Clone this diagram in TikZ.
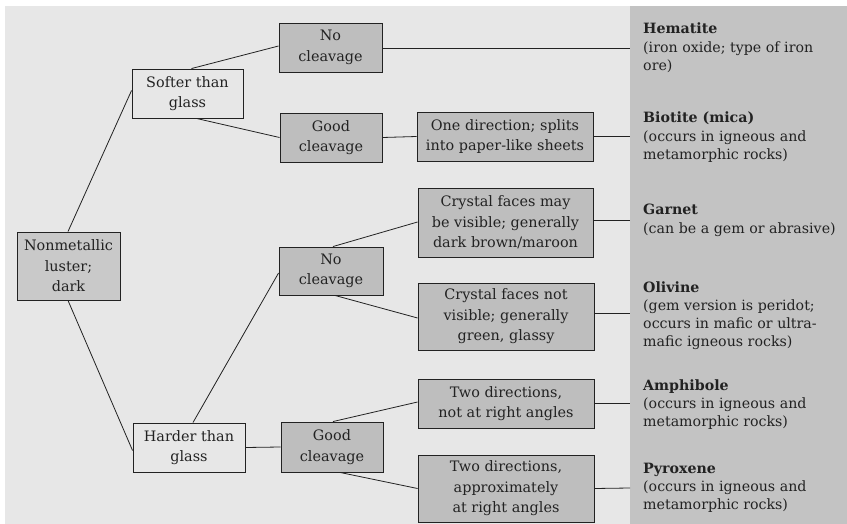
\documentclass[tikz,border=0pt]{standalone}
\usepackage{fontspec}
\setmainfont{DejaVu Serif}
\usepackage{xcolor}
\definecolor{bgpage}{HTML}{E7E7E7}
\definecolor{bgcol}{HTML}{C3C3C3}
\definecolor{boxfill}{HTML}{BEBEBE}
\definecolor{rootfill}{HTML}{C9C9C9}
\definecolor{ink}{HTML}{222222}
\begin{document}
\begin{tikzpicture}[x=1pt,y=-1pt,
  every node/.style={font=\fontsize{14.4}{20.5}\selectfont, text=ink, inner sep=0pt},
  plainbox/.style={draw=ink, line width=0.9pt, align=center},
  shadebox/.style={plainbox, fill=boxfill},
  conn/.style={draw=ink, line width=0.8pt},
  mineral/.style={anchor=base west, align=left, font=\fontsize{14.2}{18.3}\selectfont}]
\useasboundingbox (0,0) rectangle (847,524);
\fill[white] (0,0) rectangle (847,524);
\fill[bgpage] (5,6) rectangle (847,524);
\fill[bgcol] (630,6) rectangle (847,524);

% boxes
\node[shadebox, fill=rootfill, minimum width=103pt, minimum height=68pt] (root) at (68.5,266) {Nonmetallic\\luster;\\dark};
\node[plainbox, minimum width=111pt, minimum height=49pt] (soft) at (187.5,93.5) {Softer than\\glass};
\node[plainbox, minimum width=112pt, minimum height=49pt] (hard) at (189,447.5) {Harder than\\glass};
\node[shadebox, minimum width=103pt, minimum height=49pt] (nc1) at (330.5,47.5) {No\\cleavage};
\node[shadebox, minimum width=102pt, minimum height=49pt] (gc1) at (331,137.5) {Good\\cleavage};
\node[shadebox, minimum width=104pt, minimum height=48pt] (nc2) at (331,271) {No\\cleavage};
\node[shadebox, minimum width=102pt, minimum height=50pt] (gc2) at (332,447) {Good\\cleavage};
\node[shadebox, minimum width=176pt, minimum height=49pt] (one) at (505,136.5) {One direction; splits\\into paper-like sheets};
\node[shadebox, minimum width=175pt, minimum height=69pt] (cmay) at (505.5,222.5) {Crystal faces may\\be visible; generally\\dark brown/maroon};
\node[shadebox, minimum width=176pt, minimum height=67pt] (cnot) at (506,316.5) {Crystal faces not\\visible; generally\\green, glassy};
\node[shadebox, minimum width=176pt, minimum height=49pt] (tnot) at (506,403.5) {Two directions,\\not at right angles};
\node[shadebox, minimum width=176pt, minimum height=67pt] (tapp) at (506,488.5) {Two directions,\\approximately\\at right angles};

% mineral labels (anchor = baseline of last line)
\node[mineral] (hem) at (643,70.6) {\textbf{Hematite}\\(iron oxide; type of iron\\ore)};
\node[mineral] (bio) at (643,159.6) {\textbf{Biotite (mica)}\\(occurs in igneous and\\metamorphic rocks)};
\node[mineral] (gar) at (643,233.3) {\textbf{Garnet}\\(can be a gem or abrasive)};
\node[mineral] (oli) at (643,346.9) {\textbf{Olivine}\\(gem version is peridot;\\occurs in mafic or ultra-\\mafic igneous rocks)};
\node[mineral] (amp) at (643,426.6) {\textbf{Amphibole}\\(occurs in igneous and\\metamorphic rocks)};
\node[mineral] (pyr) at (643,509.6) {\textbf{Pyroxene}\\(occurs in igneous and\\metamorphic rocks)};

% connector ends at the column
\coordinate (e1) at (630,48);
\coordinate (e2) at (630,136.5);
\coordinate (e3) at (630,220);
\coordinate (e4) at (630,313);
\coordinate (e5) at (630,403);
\coordinate (e6) at (630,488);

% connectors
\draw[conn] ([xshift=-0.5pt]root.north) -- ([yshift=3pt]soft.west);
\draw[conn] ([xshift=-0.5pt]root.south) -- ([yshift=-3pt]hard.west);
\draw[conn] ([xshift=4pt]soft.north) -- ([yshift=1.5pt]nc1.west);
\draw[conn] ([xshift=9pt]soft.south) -- (gc1.west);
\draw[conn] ([xshift=4pt]hard.north) -- ([yshift=-2pt]nc2.west);
\draw[conn] (hard.east) -- (gc2.west);
\draw[conn] ([xshift=2pt]nc2.north) -- ([yshift=0.5pt]cmay.west);
\draw[conn] ([xshift=4pt]nc2.south) -- ([yshift=-1.5pt]cnot.west);
\draw[conn] ([xshift=1pt]gc2.north) -- ([yshift=1.5pt]tnot.west);
\draw[conn] ([xshift=8pt]gc2.south) -- (tapp.west);
\draw[conn] (gc1.east) -- (one.west);
\draw[conn] (nc1.east |- e1) -- (e1);
\draw[conn] (one.east) -- (e2);
\draw[conn] (cmay.east |- e3) -- (e3);
\draw[conn] (cnot.east |- e4) -- (e4);
\draw[conn] (tnot.east |- e5) -- (e5);
\draw[conn] (tapp.east) -- (e6);
\end{tikzpicture}
\end{document}
